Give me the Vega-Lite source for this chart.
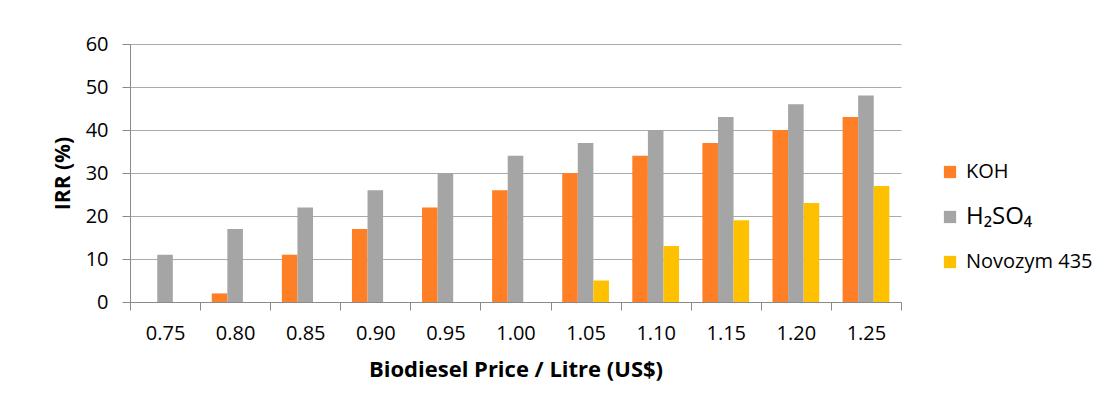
{
  "$schema": "https://vega.github.io/schema/vega-lite/v6.json",
  "width": 771,
  "height": 258,
  "autosize": {"type": "none"},
  "padding": {"left": 130, "top": 44, "right": 206, "bottom": 110},
  "background": "white",
  "config": {
    "font": "Open Sans",
    "view": {"stroke": null},
    "axis": {"labelColor": "#000000", "titleColor": "#000000"}
  },
  "data": {
    "values": [
      {"price": "0.75", "catalyst": "KOH", "irr": 0},
      {"price": "0.75", "catalyst": "H₂SO₄", "irr": 11},
      {"price": "0.75", "catalyst": "Novozym 435", "irr": 0},
      {"price": "0.80", "catalyst": "KOH", "irr": 2},
      {"price": "0.80", "catalyst": "H₂SO₄", "irr": 17},
      {"price": "0.80", "catalyst": "Novozym 435", "irr": 0},
      {"price": "0.85", "catalyst": "KOH", "irr": 11},
      {"price": "0.85", "catalyst": "H₂SO₄", "irr": 22},
      {"price": "0.85", "catalyst": "Novozym 435", "irr": 0},
      {"price": "0.90", "catalyst": "KOH", "irr": 17},
      {"price": "0.90", "catalyst": "H₂SO₄", "irr": 26},
      {"price": "0.90", "catalyst": "Novozym 435", "irr": 0},
      {"price": "0.95", "catalyst": "KOH", "irr": 22},
      {"price": "0.95", "catalyst": "H₂SO₄", "irr": 30},
      {"price": "0.95", "catalyst": "Novozym 435", "irr": 0},
      {"price": "1.00", "catalyst": "KOH", "irr": 26},
      {"price": "1.00", "catalyst": "H₂SO₄", "irr": 34},
      {"price": "1.00", "catalyst": "Novozym 435", "irr": 0},
      {"price": "1.05", "catalyst": "KOH", "irr": 30},
      {"price": "1.05", "catalyst": "H₂SO₄", "irr": 37},
      {"price": "1.05", "catalyst": "Novozym 435", "irr": 5},
      {"price": "1.10", "catalyst": "KOH", "irr": 34},
      {"price": "1.10", "catalyst": "H₂SO₄", "irr": 40},
      {"price": "1.10", "catalyst": "Novozym 435", "irr": 13},
      {"price": "1.15", "catalyst": "KOH", "irr": 37},
      {"price": "1.15", "catalyst": "H₂SO₄", "irr": 43},
      {"price": "1.15", "catalyst": "Novozym 435", "irr": 19},
      {"price": "1.20", "catalyst": "KOH", "irr": 40},
      {"price": "1.20", "catalyst": "H₂SO₄", "irr": 46},
      {"price": "1.20", "catalyst": "Novozym 435", "irr": 23},
      {"price": "1.25", "catalyst": "KOH", "irr": 43},
      {"price": "1.25", "catalyst": "H₂SO₄", "irr": 48},
      {"price": "1.25", "catalyst": "Novozym 435", "irr": 27}
    ]
  },
  "mark": {"type": "bar"},
  "encoding": {
    "x": {
      "field": "price",
      "type": "ordinal",
      "sort": null,
      "scale": {"paddingInner": 0, "paddingOuter": 0},
      "axis": {
        "title": "Biodiesel Price / Litre (US$)",
        "labelAngle": 0,
        "tickBand": "extent",
        "tickSize": 8,
        "domainColor": "#8a8a8a",
        "tickColor": "#8a8a8a",
        "labelFontSize": 20,
        "labelPadding": 13,
        "titleFontSize": 22,
        "titleFontWeight": "bold",
        "titlePadding": 16
      }
    },
    "xOffset": {
      "field": "catalyst",
      "type": "nominal",
      "sort": ["KOH", "H₂SO₄", "Novozym 435"],
      "scale": {"paddingInner": 0, "paddingOuter": 0.75}
    },
    "y": {
      "field": "irr",
      "type": "quantitative",
      "scale": {"domain": [0, 60], "nice": false},
      "axis": {
        "title": "IRR (%)",
        "values": [0, 10, 20, 30, 40, 50, 60],
        "tickSize": 8,
        "gridColor": "#aaaaaa",
        "domainColor": "#8a8a8a",
        "tickColor": "#8a8a8a",
        "labelFontSize": 20,
        "labelPadding": 14,
        "titleFontSize": 21,
        "titleFontWeight": "bold",
        "titlePadding": 12
      }
    },
    "color": {
      "field": "catalyst",
      "type": "nominal",
      "scale": {
        "domain": ["KOH", "H₂SO₄", "Novozym 435"],
        "range": ["#ff7f27", "#a5a5a5", "#ffc000"]
      },
      "legend": {
        "title": null,
        "orient": "none",
        "legendX": 810,
        "legendY": 118,
        "padding": 0,
        "symbolType": "square",
        "symbolSize": 150,
        "symbolStrokeWidth": 0,
        "labelFontSize": 20,
        "labelOffset": 6,
        "rowPadding": 23,
        "labelColor": "#000000",
        "encode": {
          "labels": {
            "update": {
              "fontSize": {"signal": "datum.label === 'H₂SO₄' ? 24 : 20"}
            }
          }
        }
      }
    }
  }
}
